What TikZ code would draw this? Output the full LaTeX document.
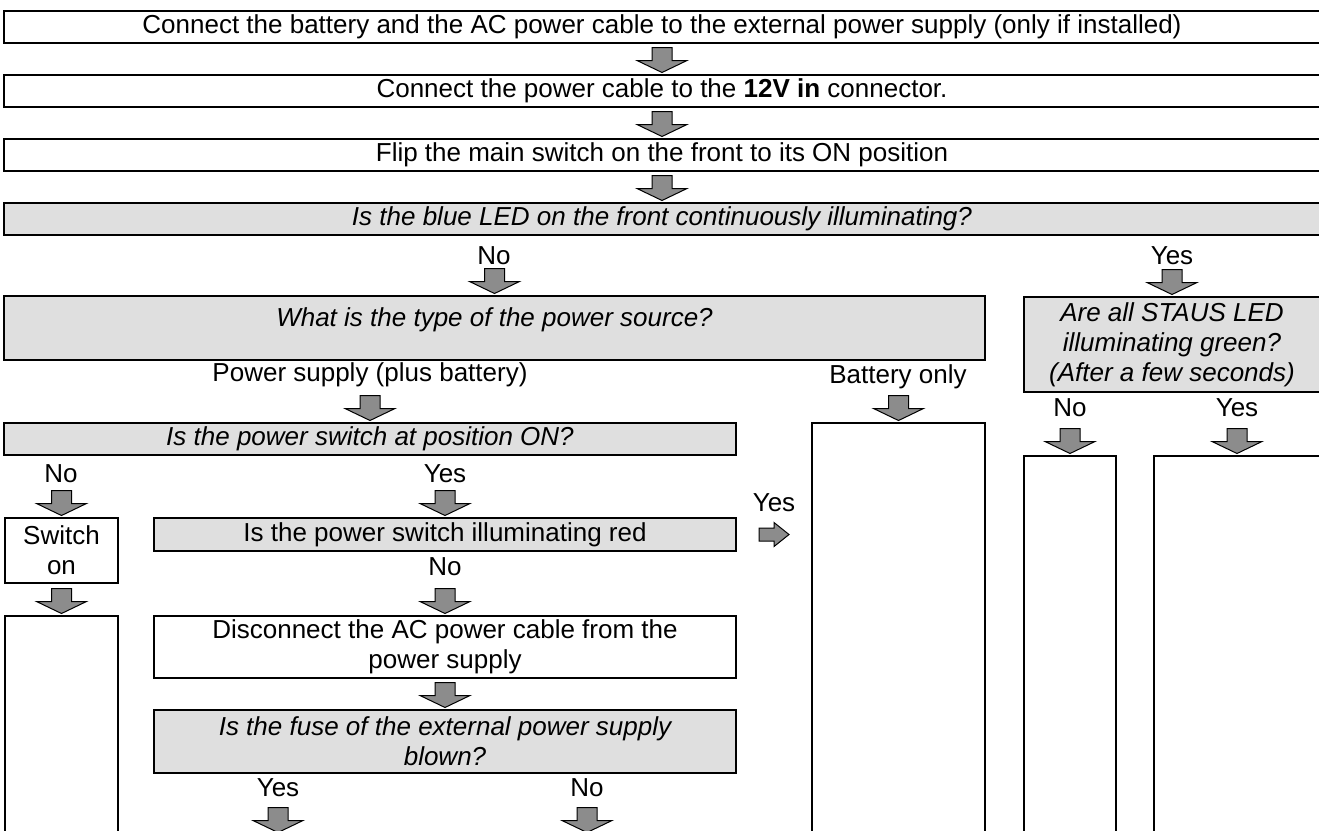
\documentclass[tikz,border=0pt]{standalone}
\usepackage{fontspec}
\setmainfont{Liberation Sans}
\usetikzlibrary{calc}
\definecolor{boxGray}{HTML}{DFDFDF}
\definecolor{arrGray}{HTML}{8C8C8C}
\newcommand\chartfont{\fontsize{26}{30}\selectfont}

\begin{document}
\begin{tikzpicture}[x=1pt, y=-1pt,
      stepbox/.style={draw, line width=1.7pt, fill=white, anchor=north west,
                      inner sep=2pt, outer sep=0pt, align=center, font=\chartfont},
      askbox/.style={stepbox, fill=boxGray, font=\chartfont\itshape},
      lbl/.style={inner sep=0pt, font=\chartfont},
      dnarr/.pic={\draw[line width=1pt, fill=arrGray]
          (-10,-27.5) -- (10,-27.5) -- (10,-14.5) -- (25,-14.5) -- (0,-2.5)
          -- (-25,-14.5) -- (-10,-14.5) -- cycle;},
      rtarr/.pic={\draw[line width=1pt, fill=arrGray]
          (-15,-6.5) -- (0,-6.5) -- (0,-12) -- (15,0) -- (0,12) -- (0,6.5)
          -- (-15,6.5) -- cycle;}]
    \useasboundingbox (0,0) rectangle (1319,830);
    \node[stepbox, minimum width=1316pt, minimum height=32pt] (conn) at (4,11) {Connect the battery and the AC power cable to the external power supply (only if installed)};
    \node[stepbox, minimum width=1316pt, minimum height=32pt] (plug) at (4,75) {Connect the power cable to the \textbf{12V in} connector.};
    \node[stepbox, minimum width=1316pt, minimum height=32pt] (flip) at (4,139) {Flip the main switch on the front to its ON position};
    \node[askbox, minimum width=1316pt, minimum height=32pt] (ledQ) at (4,203) {Is the blue LED on the front continuously illuminating?};
    \node[lbl] (ledNo)  at (494,256)  {No};
    \node[lbl] (ledYes) at (1172,256) {Yes};
    \node[askbox, minimum width=981pt, minimum height=64pt] (srcQ) at (4,296) {What is the type of the power source?\\[-18pt]\strut};
    \node[askbox, minimum width=296pt, minimum height=95pt] (greenQ) at (1024,297) {Are all STAUS LED\\illuminating green?\\(After a few seconds)};
    \node[lbl] (srcPsu)   at (370,375)  {Power supply (plus battery)};
    \node[lbl] (srcBatt)  at (898,377)  {Battery only};
    \node[lbl] (greenNo)  at (1070,408) {No};
    \node[lbl] (greenYes) at (1237,408) {Yes};
    \node[askbox, minimum width=732pt, minimum height=32pt] (onQ) at (4,423) {Is the power switch at position ON?};
    \node[stepbox, minimum width=173pt, minimum height=420pt] (battBox) at (812,423) {};
    \node[stepbox, minimum width=92pt, minimum height=400pt] (failBox) at (1024,456) {};
    \node[stepbox, minimum width=166pt, minimum height=400pt] (okBox) at (1154,456) {};
    \node[lbl] (onNo)  at (61,474)  {No};
    \node[lbl] (onYes) at (445,474) {Yes};
    \node[stepbox, minimum width=113pt, minimum height=65pt] (switchOn) at (5,518) {Switch\\on};
    \node[askbox, font=\chartfont, minimum width=582pt, minimum height=33pt] (redQ) at (154,518) {Is the power switch illuminating red};
    \node[lbl] (redYes) at (774,503) {Yes};
    \node[lbl] (redNo)  at (445,567) {No};
    \node[stepbox, minimum width=113pt, minimum height=240pt] (onBox) at (5,616) {};
    \node[stepbox, minimum width=582pt, minimum height=62pt] (unplug) at (154,616) {Disconnect the AC power cable from the\\power supply};
    \node[askbox, minimum width=582pt, minimum height=63pt] (fuseQ) at (154,710) {Is the fuse of the external power supply\\blown?};
    \node[lbl] (fuseYes) at (278,788) {Yes};
    \node[lbl] (fuseNo)  at (587,788) {No};
    \coordinate (fuseYesEnd) at (278,835);
    \coordinate (fuseNoEnd)  at (587,835);

    \pic at (plug.north) {dnarr};
    \pic at (flip.north) {dnarr};
    \pic at (ledQ.north) {dnarr};
    \pic at (srcQ.north) {dnarr};
    \pic at (greenQ.north) {dnarr};
    \pic at (onQ.north) {dnarr};
    \pic at (battBox.north) {dnarr};
    \pic at (failBox.north) {dnarr};
    \pic at (okBox.north) {dnarr};
    \pic at (switchOn.north) {dnarr};
    \pic at (redQ.north) {dnarr};
    \pic at (onBox.north) {dnarr};
    \pic at (unplug.north) {dnarr};
    \pic at (fuseQ.north) {dnarr};
    \pic at (fuseYesEnd) {dnarr};
    \pic at (fuseNoEnd) {dnarr};
    \pic at ($(redQ.east)!.5!(redQ.east -| battBox.west)$) {rtarr};
  \end{tikzpicture}
\end{document}
